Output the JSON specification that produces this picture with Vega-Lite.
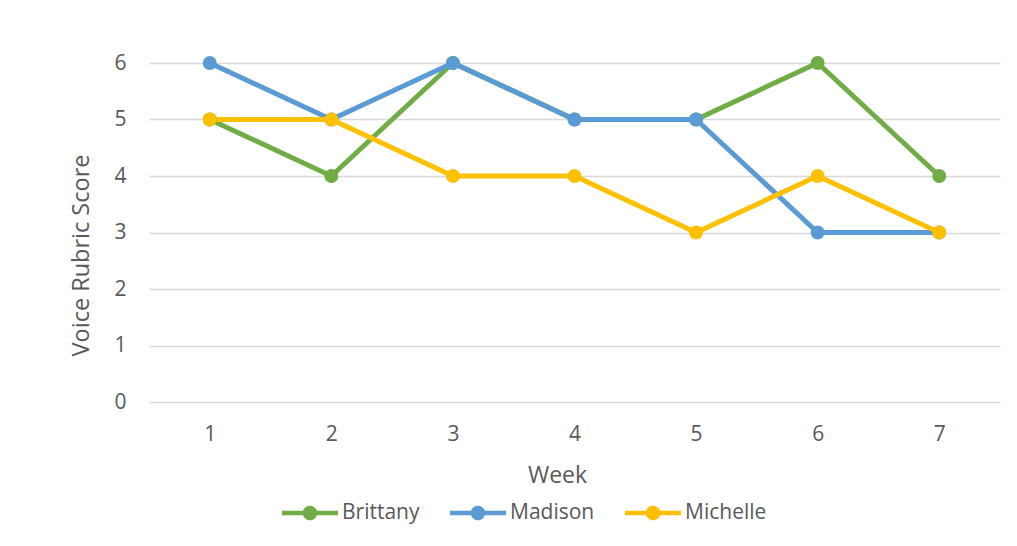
{
  "$schema": "https://vega.github.io/schema/vega-lite/v6.json",
  "width": 851,
  "height": 339,
  "autosize": {"type": "none"},
  "padding": {"left": 149, "top": 63, "right": 17, "bottom": 144},
  "background": "#ffffff",
  "config": {
    "font": "Open Sans",
    "view": {"stroke": null},
    "axis": {
      "labelColor": "#595959",
      "titleColor": "#595959",
      "labelFont": "Open Sans",
      "titleFont": "Open Sans",
      "titleFontWeight": "normal"
    }
  },
  "data": {
    "values": [
      {"week": 1, "student": "Brittany", "score": 5},
      {"week": 2, "student": "Brittany", "score": 4},
      {"week": 3, "student": "Brittany", "score": 6},
      {"week": 4, "student": "Brittany", "score": 5},
      {"week": 5, "student": "Brittany", "score": 5},
      {"week": 6, "student": "Brittany", "score": 6},
      {"week": 7, "student": "Brittany", "score": 4},
      {"week": 1, "student": "Madison", "score": 6},
      {"week": 2, "student": "Madison", "score": 5},
      {"week": 3, "student": "Madison", "score": 6},
      {"week": 4, "student": "Madison", "score": 5},
      {"week": 5, "student": "Madison", "score": 5},
      {"week": 6, "student": "Madison", "score": 3},
      {"week": 7, "student": "Madison", "score": 3},
      {"week": 1, "student": "Michelle", "score": 5},
      {"week": 2, "student": "Michelle", "score": 5},
      {"week": 3, "student": "Michelle", "score": 4},
      {"week": 4, "student": "Michelle", "score": 4},
      {"week": 5, "student": "Michelle", "score": 3},
      {"week": 6, "student": "Michelle", "score": 4},
      {"week": 7, "student": "Michelle", "score": 3}
    ]
  },
  "mark": {
    "type": "line",
    "strokeWidth": 5,
    "strokeCap": "round",
    "strokeJoin": "round",
    "point": {"filled": true, "size": 195, "opacity": 1}
  },
  "encoding": {
    "x": {
      "field": "week",
      "type": "ordinal",
      "scale": {"type": "point", "padding": 0.5},
      "axis": {
        "title": "Week",
        "labelAngle": 0,
        "labelFontSize": 21,
        "labelBaseline": "alphabetic",
        "labelPadding": 38,
        "ticks": false,
        "tickSize": 0,
        "domain": false,
        "grid": false,
        "titleFontSize": 23,
        "titleX": 408,
        "titleY": 80,
        "titleBaseline": "alphabetic",
        "titleAnchor": null
      }
    },
    "y": {
      "field": "score",
      "type": "quantitative",
      "scale": {"domain": [0, 6], "nice": false, "zero": true},
      "axis": {
        "title": "Voice Rubric Score",
        "values": [0, 1, 2, 3, 4, 5, 6],
        "labelFontSize": 21,
        "labelPadding": 23,
        "labelBaseline": "middle",
        "ticks": false,
        "tickSize": 0,
        "domain": false,
        "grid": true,
        "gridColor": "#d9d9d9",
        "gridWidth": 1.5,
        "titleFontSize": 23.5,
        "titleX": -61,
        "titleY": 192,
        "titleBaseline": "alphabetic",
        "titleAngle": -90
      }
    },
    "color": {
      "field": "student",
      "type": "nominal",
      "scale": {
        "domain": ["Brittany", "Madison", "Michelle"],
        "range": ["#70AD47", "#5B9BD5", "#FFC000"]
      },
      "legend": {
        "title": null,
        "orient": "none",
        "direction": "horizontal",
        "legendX": 133,
        "legendY": 422,
        "padding": 0,
        "columnPadding": 30,
        "labelFontSize": 21,
        "labelColor": "#595959",
        "labelFont": "Open Sans",
        "labelOffset": 4,
        "symbolType": "M-1,-0.08L1,-0.08L1,0.08L-1,0.08Z M-0.26,0A0.26,0.26 0 1,1 0.26,0A0.26,0.26 0 1,1 -0.26,0Z",
        "symbolSize": 3136,
        "symbolStrokeWidth": 0,
        "encode": {
          "symbols": {
            "update": {
              "fill": {"scale": "color", "field": "value"},
              "strokeWidth": {"value": 0},
              "opacity": {"value": 1}
            }
          }
        }
      }
    }
  }
}
